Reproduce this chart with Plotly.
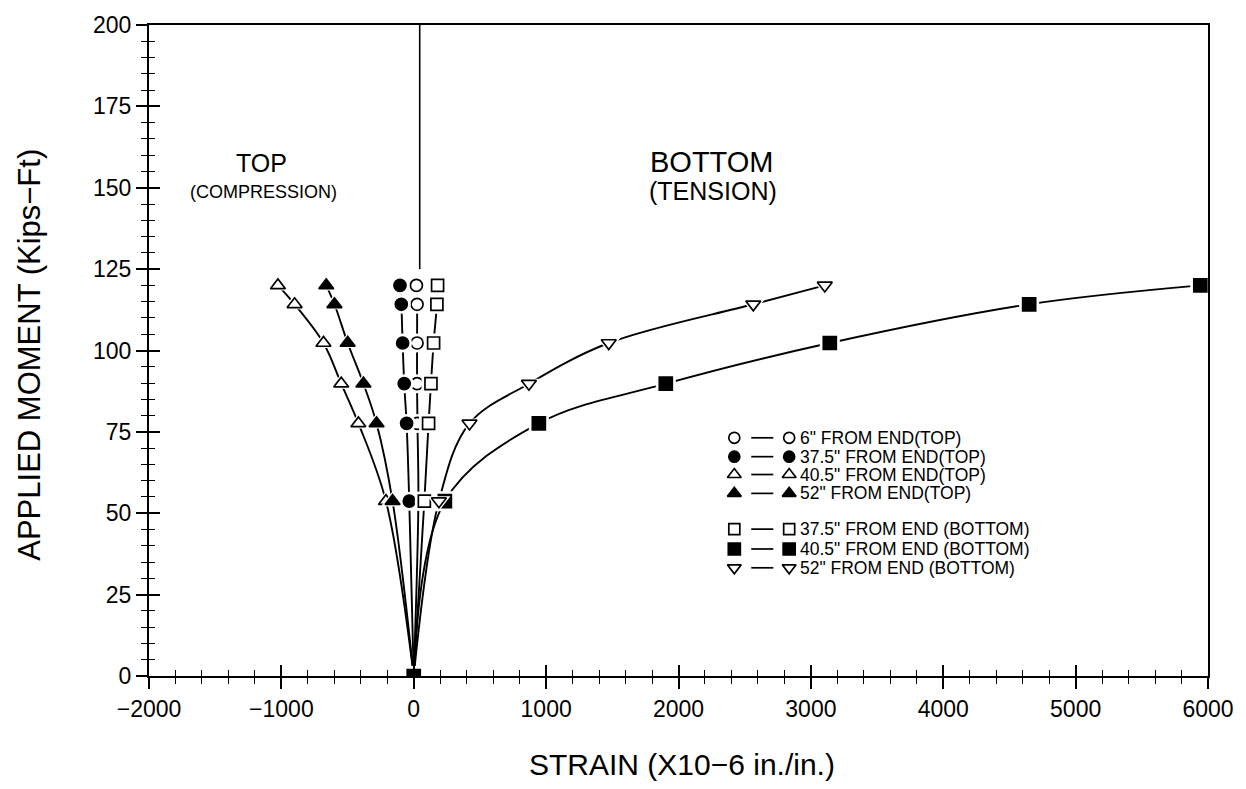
import plotly.graph_objects as go

# Applied moment levels (Kips-Ft) shared by every gauge
moment = [0, 53.7, 77.6, 89.8, 102.3, 114.2, 120.0]

# Strain readings (x10-6 in./in.) per gauge location
strain_6_top = [0, 35, 28, 25, 25, 25, 20]
strain_375_top = [0, -34, -54, -72, -84, -94, -104]
strain_405_top = [0, -210, -418, -548, -682, -900, -1026]
strain_52_top = [0, -160, -281, -380, -499, -599, -661]
strain_375_bot = [0, 80, 112, 130, 150, 175, 180]
strain_405_bot = [0, 235, 945, 1904, 3143, 4649, 5942]
strain_52_bot = [0, 190, 421, 870, 1473, 2565, 3105]

labels = [
    '6" FROM END(TOP)',
    '37.5" FROM END(TOP)',
    '40.5" FROM END(TOP)',
    '52" FROM END(TOP)',
    '37.5" FROM END (BOTTOM)',
    '40.5" FROM END (BOTTOM)',
    '52" FROM END (BOTTOM)',
]

x_tick_vals = [-2000, -1000, 0, 1000, 2000, 3000, 4000, 5000, 6000]
x_tick_text = ["\u22122000", "\u22121000", "0", "1000", "2000", "3000", "4000", "5000", "6000"]
y_tick_vals = [0, 25, 50, 75, 100, 125, 150, 175, 200]

FONT = "Liberation Sans, Arial, sans-serif"
INK = "black"

# (strains, symbol, filled, size, marker at origin)
series = [
    (strain_6_top, "circle", False, 12, False),
    (strain_375_top, "circle", True, 12, False),
    (strain_405_top, "triangle-up", False, 13, False),
    (strain_52_top, "triangle-up", True, 13, False),
    (strain_375_bot, "square", False, 12, False),
    (strain_405_bot, "square", True, 13, True),
    (strain_52_bot, "triangle-down", False, 13, False),
]

fig = go.Figure()

# smooth connecting curves, all drawn first
for strains, sym, filled, size, at_origin in series:
    fig.add_trace(go.Scatter(
        x=strains, y=moment, mode="lines",
        line=dict(color=INK, width=1.9, shape="spline", smoothing=1.0),
        hoverinfo="skip", showlegend=False,
    ))

# markers with a white halo so curves stop short of each symbol
for strains, sym, filled, size, at_origin in series:
    xs = strains if at_origin else strains[1:]
    ys = moment if at_origin else moment[1:]
    fig.add_trace(go.Scatter(
        x=xs, y=ys, mode="markers",
        marker=dict(symbol=sym, size=size + 7, color="white", line=dict(width=0)),
        hoverinfo="skip", showlegend=False,
    ))
    fig.add_trace(go.Scatter(
        x=xs, y=ys, mode="markers",
        marker=dict(symbol=sym, size=size, color=INK if filled else "white",
                    line=dict(color=INK, width=1.7)),
        showlegend=False,
    ))

# empty trace so the inner-tick overlay axes are drawn
fig.add_trace(go.Scatter(x=[None], y=[None], xaxis="x2", yaxis="y2",
                         showlegend=False, hoverinfo="skip"))

# hand-drawn key: marker — marker, label
key_x_left, key_x_line0, key_x_line1, key_x_right, key_x_text = 0.5527, 0.5687, 0.5895, 0.6045, 0.6125
key_rows = [0.3659, 0.3369, 0.3095, 0.2805, 0.2256, 0.1951, 0.1662]
annotations = []
for (strains, sym, filled, size, at_origin), row, lab in zip(series, key_rows, labels):
    fig.add_trace(go.Scatter(
        x=[key_x_line0, key_x_line1], y=[row, row], mode="lines",
        line=dict(color=INK, width=1.7), xaxis="x3", yaxis="y3",
        hoverinfo="skip", showlegend=False,
    ))
    fig.add_trace(go.Scatter(
        x=[key_x_left, key_x_right], y=[row, row], mode="markers",
        marker=dict(symbol=sym, size=size - 1, color=INK if filled else "white",
                    line=dict(color=INK, width=1.7)),
        xaxis="x3", yaxis="y3", hoverinfo="skip", showlegend=False,
    ))
    annotations.append(dict(
        x=key_x_text, y=row, xref="paper", yref="paper", text=lab,
        showarrow=False, xanchor="left", yanchor="middle",
        font=dict(family=FONT, size=17.5, color=INK),
    ))

# region labels
region_labels = [
    dict(x=0.1064, y=0.788, text="TOP", font=dict(family=FONT, size=25, color=INK)),
    dict(x=0.1083, y=0.7439, text="(COMPRESSION)", font=dict(family=FONT, size=18, color=INK)),
    dict(x=0.532, y=0.7896, text="BOTTOM", font=dict(family=FONT, size=29, color=INK)),
    dict(x=0.533, y=0.7454, text="(TENSION)", font=dict(family=FONT, size=25, color=INK)),
]
for a in region_labels:
    a.update(xref="paper", yref="paper", showarrow=False, xanchor="center", yanchor="middle")
annotations += region_labels

# axis titles
annotations += [
    dict(x=0.503, y=-0.1357, xref="paper", yref="paper", showarrow=False,
         text="STRAIN (X10\u22126 in./in.)", xanchor="center", yanchor="middle",
         font=dict(family=FONT, size=30, color=INK)),
    dict(x=-0.113, y=0.494, xref="paper", yref="paper", showarrow=False, textangle=-90,
         text="APPLIED MOMENT (Kips\u2212Ft)", xanchor="center", yanchor="middle",
         font=dict(family=FONT, size=31, color=INK)),
]

x_range = [-2000, 6000]
y_range = [0, 200]

axis_common = dict(color=INK, tickcolor=INK, tickwidth=1.6, ticklen=11)

fig.update_layout(
    width=1246, height=789,
    margin=dict(l=149, r=35, t=20, b=113),
    paper_bgcolor="white", plot_bgcolor="white",
    showlegend=False,
    annotations=annotations,
    shapes=[dict(type="line", xref="x", yref="y", x0=45, x1=45, y0=125, y1=200,
                 line=dict(color=INK, width=1.6))],
    xaxis=dict(
        range=x_range, tickvals=x_tick_vals, ticktext=x_tick_text, ticks="outside",
        showline=True, linecolor=INK, linewidth=2.2, mirror=True, showgrid=False,
        zeroline=False, tickfont=dict(family=FONT, size=23, color=INK),
        minor=dict(dtick=200, tick0=0, ticks="outside", ticklen=6, tickcolor=INK, tickwidth=1.4),
        **axis_common,
    ),
    yaxis=dict(
        range=y_range, tickvals=y_tick_vals, ticks="outside",
        showline=True, linecolor=INK, linewidth=2.2, mirror=True, showgrid=False,
        zeroline=False, tickfont=dict(family=FONT, size=23, color=INK),
        minor=dict(dtick=5, tick0=0, ticks="outside", ticklen=6, tickcolor=INK, tickwidth=1.4),
        **axis_common,
    ),
    xaxis2=dict(
        range=x_range, overlaying="x", anchor="y2", tickvals=x_tick_vals, ticks="inside",
        showticklabels=False, showline=False, showgrid=False, zeroline=False,
        minor=dict(dtick=200, tick0=0, ticks="inside", ticklen=6, tickcolor=INK, tickwidth=1.4),
        **axis_common,
    ),
    yaxis2=dict(
        range=y_range, overlaying="y", anchor="x2", tickvals=y_tick_vals, ticks="inside",
        showticklabels=False, showline=False, showgrid=False, zeroline=False,
        minor=dict(dtick=5, tick0=0, ticks="inside", ticklen=6, tickcolor=INK, tickwidth=1.4),
        **axis_common,
    ),
    xaxis3=dict(range=[0, 1], overlaying="x", anchor="y3", visible=False),
    yaxis3=dict(range=[0, 1], overlaying="y", anchor="x3", visible=False),
)

fig.write_html("out.html")
